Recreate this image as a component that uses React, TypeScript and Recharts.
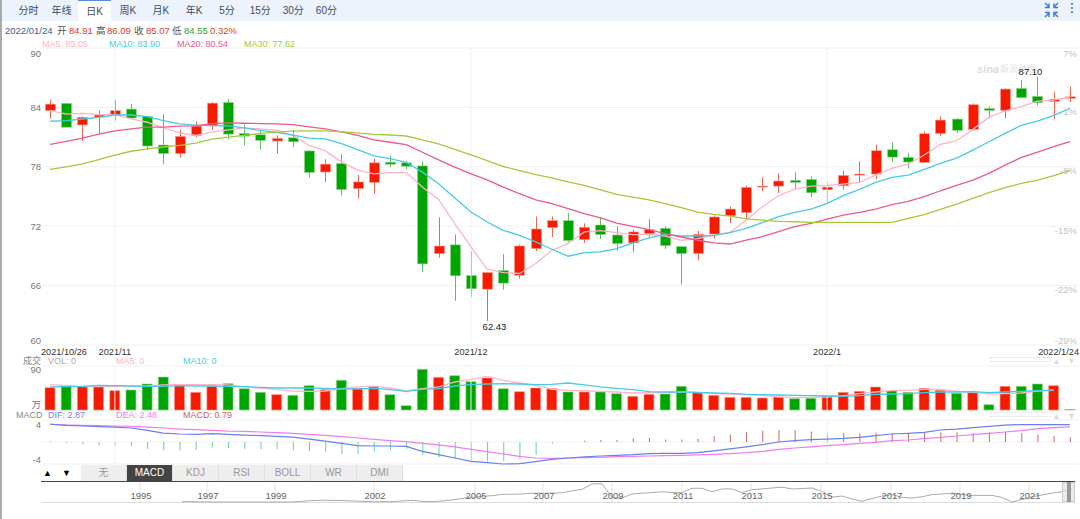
import { Bar, CartesianGrid, Cell, ComposedChart, Line, LineChart, ReferenceLine, XAxis, YAxis } from 'recharts';

const dates = [
  '2021/10/26', '2021/10/27', '2021/10/28', '2021/10/29',
  '2021/11', '2021/11/2', '2021/11/3', '2021/11/4', '2021/11/5', '2021/11/8', '2021/11/9', '2021/11/10', '2021/11/11', '2021/11/12',
  '2021/11/15', '2021/11/16', '2021/11/17', '2021/11/18', '2021/11/19', '2021/11/22', '2021/11/23', '2021/11/24', '2021/11/25', '2021/11/26', '2021/11/29', '2021/11/30',
  '2021/12', '2021/12/2', '2021/12/3', '2021/12/6', '2021/12/7', '2021/12/8', '2021/12/9', '2021/12/10', '2021/12/13', '2021/12/14', '2021/12/15', '2021/12/16', '2021/12/17',
  '2021/12/20', '2021/12/21', '2021/12/22', '2021/12/23', '2021/12/27', '2021/12/28', '2021/12/29', '2021/12/30', '2021/12/31',
  '2022/1', '2022/1/4', '2022/1/5', '2022/1/6', '2022/1/7', '2022/1/10', '2022/1/11', '2022/1/12', '2022/1/13', '2022/1/14',
  '2022/1/17', '2022/1/18', '2022/1/19', '2022/1/20', '2022/1/21', '2022/1/24',
];
const dateTicks = ['2021/10/26', '2021/11', '2021/12', '2022/1', '2022/1/24'];
const monthLines = ['2021/11', '2021/12', '2022/1'];

const opens = [
  83.67, 84.4, 82.23, 83.03, 83.27, 83.83, 83.07, 80.2, 79.33, 81.17, 82.13, 84.5, 81.37, 81.23, 80.6, 80.93, 79.6, 77.47, 78.33, 75.8,
  76.42, 78.46, 78.4, 78.09, 69.23, 70.11, 67.02, 65.64, 67.52, 67.05, 69.74, 71.85, 72.56, 70.64, 72.12, 71.11, 70.31, 71.25, 71.79, 69.94, 69.23, 71.21,
  73.06, 73.36, 75.98, 76.05, 76.63, 76.73, 75.68, 76.09, 77.16, 77.27, 79.72, 78.95, 78.44, 81.37, 82.82, 81.78, 83.87, 83.7, 85.92, 85.11, 84.61, 84.91,
];
const closes = [
  84.33, 82.0, 83.0, 83.23, 83.67, 82.93, 80.1, 79.33, 81.07, 82.1, 84.43, 81.3, 81.1, 80.67, 80.87, 80.53, 77.43, 78.27, 75.7, 76.47,
  78.4, 78.26, 78.06, 68.19, 70.0, 66.99, 65.68, 67.32, 66.25, 70.0, 71.72, 72.56, 70.54, 71.89, 71.15, 70.24, 71.42, 71.65, 70.04, 69.23, 71.18, 72.93,
  73.73, 75.92, 76.05, 76.56, 76.42, 75.38, 75.95, 77.13, 77.27, 79.62, 78.98, 78.48, 81.34, 82.72, 81.68, 84.27, 83.7, 85.85, 84.98, 84.47, 84.81, 85.07,
];
const highs = [
  84.77, 84.47, 83.07, 83.67, 84.77, 84.33, 83.07, 83.33, 81.73, 82.6, 84.53, 84.83, 82.27, 81.6, 81.17, 81.73, 79.67, 78.77, 79.27, 77.17,
  78.8, 79.13, 78.56, 78.56, 72.89, 71.18, 69.47, 67.39, 69.2, 70.14, 72.99, 72.99, 73.3, 72.29, 72.93, 71.99, 71.65, 72.72, 71.99, 69.94, 71.52, 73.09,
  73.97, 76.09, 76.93, 77.33, 77.47, 77.06, 76.42, 77.6, 78.55, 80.23, 80.46, 79.42, 81.58, 83.09, 82.92, 84.4, 84.07, 85.92, 86.76, 87.1, 85.55, 86.09,
];
const lows = [
  82.9, 82.0, 80.6, 81.33, 82.67, 82.87, 79.67, 78.27, 78.93, 81.0, 81.73, 80.8, 80.17, 79.77, 79.33, 80.0, 76.93, 76.47, 75.1, 74.8,
  75.27, 77.96, 77.76, 67.39, 68.83, 64.47, 64.87, 62.43, 65.61, 66.72, 69.5, 70.91, 70.41, 70.31, 70.71, 69.5, 69.37, 70.85, 69.7, 66.11, 68.56, 70.78,
  72.28, 72.62, 75.55, 75.35, 75.72, 74.94, 74.37, 75.72, 76.49, 76.76, 78.51, 77.84, 78.38, 81.14, 81.44, 81.64, 82.92, 82.92, 84.98, 84.2, 82.79, 84.55,
];
const ma5 = [
  83.7, 83.33, 83.4, 83.27, 83.27, 82.83, 82.5, 81.93, 81.43, 81.17, 81.5, 81.73, 81.93, 81.83, 81.67, 81.17, 80.17, 79.6, 78.5, 77.67,
  77.29, 77.42, 77.42, 75.95, 74.7, 72.26, 69.9, 67.66, 67.32, 67.22, 68.23, 69.57, 70.24, 71.42, 71.55, 71.35, 71.15, 71.18, 71.01, 70.58, 70.74, 71.08,
  71.37, 72.62, 73.97, 75.08, 75.75, 76.05, 76.12, 76.26, 76.42, 77.17, 77.84, 78.28, 79.19, 80.26, 80.63, 81.78, 82.99, 83.66, 84.07, 84.64, 84.74, 85.05,
];
const ma10 = [
  82.6, 82.67, 82.83, 83.0, 83.23, 83.23, 83.07, 82.67, 82.33, 82.2, 82.17, 82.13, 81.93, 81.67, 81.47, 81.2, 80.9, 80.83, 80.33, 79.73,
  79.1, 78.83, 78.46, 77.46, 76.28, 74.84, 73.43, 72.42, 71.58, 71.08, 70.41, 69.67, 68.97, 69.33, 69.4, 69.74, 70.31, 70.81, 71.18, 71.01, 71.01, 71.08,
  71.34, 71.78, 72.35, 72.96, 73.39, 73.73, 74.3, 75.08, 75.72, 76.42, 76.93, 77.16, 77.74, 78.34, 78.88, 79.69, 80.53, 81.37, 82.18, 82.62, 83.19, 83.9,
];
const ma20 = [
  80.27, 80.57, 80.9, 81.3, 81.63, 81.83, 82.0, 82.0, 82.1, 82.13, 82.37, 82.43, 82.4, 82.37, 82.33, 82.27, 82.03, 81.83, 81.53, 81.17,
  80.71, 80.48, 80.24, 79.47, 78.7, 77.96, 77.29, 76.68, 75.95, 75.28, 74.67, 74.27, 73.77, 73.26, 72.83, 72.32, 71.99, 71.65, 71.25, 70.91, 70.58, 70.31,
  70.2, 70.6, 70.94, 71.44, 71.95, 72.28, 72.72, 73.12, 73.39, 73.73, 74.17, 74.5, 74.98, 75.58, 76.12, 76.66, 77.33, 78.17, 78.95, 79.49, 80.03, 80.54,
];
const ma30 = [
  77.73, 78.0, 78.3, 78.73, 79.17, 79.57, 79.8, 80.0, 80.17, 80.4, 80.8, 81.0, 81.17, 81.37, 81.5, 81.6, 81.63, 81.63, 81.53, 81.43,
  81.28, 81.21, 81.11, 80.71, 80.31, 79.77, 79.2, 78.63, 78.03, 77.62, 77.22, 76.89, 76.48, 76.12, 75.68, 75.22, 74.94, 74.67, 74.27, 73.87, 73.43, 73.2,
  73.02, 72.75, 72.62, 72.48, 72.45, 72.38, 72.38, 72.38, 72.38, 72.38, 72.38, 72.79, 73.16, 73.7, 74.24, 74.81, 75.38, 75.89, 76.32, 76.66, 77.1, 77.62,
];
const volumes = [
  45.7, 50.5, 48.4, 49.1, 39.6, 40.9, 53.2, 67.5, 49.8, 36.1, 48.4, 53.9, 43.6, 36.1, 31.4, 30, 49.8, 41.6, 60.7, 44.3, 49.1, 31.4, 8.9, 83.2, 66.8, 70.2, 58, 65.5, 43.6, 37.5, 45,
  43.6, 36.8, 36.8, 36.8, 33.4, 28, 32, 32.7, 48.4, 35.5, 30, 25.9, 25.9, 24.6, 26.6, 23.2, 23.9, 28.6, 36.1, 38.2, 47, 38.9, 36.1, 44.3, 40.2, 34.1, 35.5, 10.9, 48.4, 48.4, 53.2, 49.8, 1,
];
const volMa5 = [
  51.8, 49.8, 47.7, 48.4, 47.7, 48.4, 49.1, 51.2, 51.8, 51.8, 51.8, 51.2, 47.1, 45, 41.6, 38.9, 38.2, 38.9, 43.6, 47.1, 48.4, 45, 38.9, 43.6, 47.1, 57.3, 62.1, 68.9, 60.7, 55.2, 50.5,
  42.3, 40.2, 38.9, 38.2, 36.8, 34.8, 35.5, 35.5, 36.8, 35.5, 34.1, 32.7, 31.4, 30, 26.6, 25.2, 25.9, 26.6, 29.3, 33.4, 36.8, 40.2, 40.2, 42.3, 42.3, 38.2, 36.8, 32.7, 33.4, 34.8, 38.9, 40.2, null,
];
const volMa10 = [
  47.1, 47.7, 48.4, 50.5, 49.8, 49.1, 48.4, 48.4, 49.8, 49.1, 49.1, 48.4, 47.7, 46.4, 45, 45, 45, 44.3, 43, 43, 44.3, 41.6, 38.2, 42.3, 43.6, 49.1, 51.8, 53.2, 53.9, 53.2, 51.8,
  52.5, 55.2, 51.2, 47.1, 44.3, 41.6, 37.5, 36.8, 36.8, 36.1, 34.8, 34.1, 32, 31.4, 30.7, 30, 29.3, 28.6, 28, 29.3, 32, 32.7, 33.4, 35.5, 36.8, 36.8, 37.5, 35.5, 36.8, 38.2, 39.6, 40.9, null,
];
const dif = [
  2.93, 2.75, 2.64, 2.53, 2.47, 2.31, 1.92, 1.48, 1.32, 1.26, 1.37, 1.26, 1.15, 1.04, 0.93, 0.82, 0.49, 0.16, -0.22, -0.6, -0.66, -0.66, -0.71, -1.54, -2.09, -2.64, -3.19, -3.41, -3.63, -3.57, -3.24,
  -2.86, -2.64, -2.47, -2.31, -2.2, -2.09, -1.92, -1.87, -1.87, -1.76, -1.48, -1.15, -0.82, -0.44, 0, 0.22, 0.38, 0.49, 0.6, 0.77, 1.04, 1.32, 1.43, 1.59, 1.98, 2.14, 2.36, 2.58, 2.8, 2.87, 2.87, 2.87, 2.87,
];
const dea = [
  2.93, 2.81, 2.75, 2.69, 2.64, 2.58, 2.47, 2.31, 2.14, 2.03, 1.92, 1.81, 1.76, 1.65, 1.54, 1.43, 1.26, 1.1, 0.88, 0.66, 0.44, 0.22, 0.05, -0.22, -0.49, -0.82, -1.21, -1.59, -1.98, -2.36, -2.64,
  -2.7, -2.64, -2.58, -2.53, -2.42, -2.36, -2.31, -2.25, -2.2, -2.14, -2.03, -1.92, -1.76, -1.54, -1.21, -0.99, -0.82, -0.6, -0.44, -0.22, -0.05, 0.22, 0.33, 0.55, 0.77, 0.99, 1.21, 1.43, 1.65, 1.87, 2.2, 2.36, 2.48,
];
const macd = [
  0.1, -0.15, -0.4, -0.55, -0.55, -0.7, -1.15, -1.4, -1.4, -1.3, -0.9, -1, -1.1, -1.15, -1.25, -1.35, -1.5, -1.6, -2, -2, -1.55, -1.3, -1.1, -2.1, -2.5, -2.8, -3.1, -3.2, -3.15, -2.8, -2.1,
  -0.3, 0, 0.2, 0.35, 0.35, 0.6, 0.65, 0.4, 0.4, 0.5, 1, 1.25, 1.65, 1.85, 2, 2, 1.75, 1.5, 1.5, 1.4, 1.55, 1.5, 1.3, 1.5, 1.6, 1.6, 1.5, 1.6, 1.7, 1.5, 1.2, 1, 0.79,
];

const priceTicks = [60, 66, 72, 78, 84, 90];
const pctLabels = ['-29%', '-22%', '-15%', '-8%', '1%', '7%'];

// overview strip, one reading per step along the strip
const navClose = [
  null, null, null, null, null, null, null, null, null, null, null, null, null, null,
  22, 22, 20, 20, 20, 20, 20, 20, 20, 20, 20, 20, 24, 29, 31, 31, 29, 27, 24, 22, 22, 22, 27, 31, 24, 22, 27, 33, 42, 49, 56, 60, 69, 69, 71, 76, 76, 76, 78, 91, 100, 134, 136,
  47, 45, 71, 76, 80, 85, 80, 80, 107, 107, 85, 103, 103, 80, 98, 103, 109, 114, 103, 105, 109, 87, 51, 58, 40, 24, 42, 58, 67, 49, 45, 53, 67, 71, 76, 67, 62, 62, 62, 49, 20, 36, 53, 65, 76, 85, 103,
];
const navSteps = [9.8, 16.5, 23.3, 33.2, 43.3, 50.1, 57, 64, 70.9, 77.9, 84.9, 91.8, 98.7];
const navYears = ['1995', '1997', '1999', '2002', '2005', '2007', '2009', '2011', '2013', '2015', '2017', '2019', '2021'];

const navRows = navClose.map((value, step) => ({ step, value }));
const rows = dates.map((date, i) => ({
  date,
  open: opens[i],
  high: highs[i],
  low: lows[i],
  close: closes[i],
  range: [lows[i], highs[i]],
  ma5: ma5[i],
  ma10: ma10[i],
  ma20: ma20[i],
  ma30: ma30[i],
  vol: volumes[i],
  volMa5: volMa5[i],
  volMa10: volMa10[i],
  dif: dif[i],
  dea: dea[i],
  macd: macd[i],
}));

const RED = '#f61a00';
const GREEN = '#00a600';
const GRID = '#f0f0f0';
const FONT = 'Arial, "Liberation Sans", "Noto Sans CJK SC", sans-serif';
const maxHigh = Math.max(...highs);
const minLow = Math.min(...lows);

function Candle(props: any) {
  const { x, y, width, height, payload } = props;
  const cx = Math.round(x + width / 2) + 0.5;
  const perUnit = Math.abs(height) / (payload.high - payload.low);
  const top = y + (payload.high - Math.max(payload.open, payload.close)) * perUnit;
  const bottom = y + (payload.high - Math.min(payload.open, payload.close)) * perUnit;
  const up = payload.close >= payload.open;
  const color = up ? RED : GREEN;
  return (
    <g>
      <line x1={cx} x2={cx} y1={y} y2={y + Math.abs(height)} stroke={up ? '#f8604c' : '#5cc05c'} />
      <rect x={cx - 5} y={top} width={10} height={Math.max(bottom - top, 1)} fill={color} stroke={up ? '#fb9a8c' : '#8ed48e'} strokeWidth={0.6} />
      {payload.high === maxHigh && (
        <text x={cx - 7} y={y - 2} textAnchor="middle" fontSize={9.5} fill="#222" fontFamily={FONT}>
          {payload.high.toFixed(2)}
        </text>
      )}
      {payload.low === minLow && (
        <text x={cx + 7} y={y + Math.abs(height) + 9} textAnchor="middle" fontSize={9.5} fill="#222" fontFamily={FONT}>
          {payload.low.toFixed(2)}
        </text>
      )}
    </g>
  );
}

// one tick, drawn on both sides: the price at the left, the change at the right
function PriceTick({ y, payload }: any) {
  const edge = payload.value === 90 ? 5 : payload.value === 60 ? -5 : 0;
  const rightShift = edge || 4;
  return (
    <g fontSize={9.5} fontFamily={FONT} textAnchor="end">
      <text x={41} y={y + edge + 3.5} fill="#777">
        {payload.value}
      </text>
      <text x={1077} y={y + rightShift + 3.5} fill="#c4c4c4">
        {pctLabels[priceTicks.indexOf(payload.value)]}
      </text>
    </g>
  );
}

function DateTick({ x, y, payload }: any) {
  const anchor = payload.value === '2021/10/26' ? 'start' : payload.value === '2022/1/24' ? 'end' : 'middle';
  const left = payload.value === '2021/10/26' ? 41 : payload.value === '2022/1/24' ? 1079 : x;
  return (
    <text x={left} y={y + 2} textAnchor={anchor} fontSize={9.2} fill="#333" fontFamily={FONT}>
      {payload.value}
    </text>
  );
}

function VolTick({ y, payload }: any) {
  const zero = payload.value === 0;
  return (
    <text x={41} y={y + (zero ? -2 : 7)} textAnchor="end" fontSize={9.5} fill="#777" fontFamily={FONT}>
      {zero ? '万' : payload.value}
    </text>
  );
}

function MacdTick({ y, payload }: any) {
  if (payload.value === 0) return null;
  return (
    <text x={41} y={y + (payload.value > 0 ? 8 : -1)} textAnchor="end" fontSize={9.5} fill="#777" fontFamily={FONT}>
      {Math.round(payload.value)}
    </text>
  );
}

function NavTick({ x, payload }: any) {
  return (
    <g>
      <line x1={x} x2={x} y1={482} y2={502} stroke="#e4e4e4" />
      <text x={x + 1} y={499} textAnchor="middle" fontSize={9.5} fill="#666" fontFamily={FONT}>
        {navYears[navSteps.indexOf(payload.value)]}
      </text>
    </g>
  );
}

const layer = { position: 'absolute', left: 0, top: 0 } as const;

function Label({ x, y, color, size = 9.5, children }: any) {
  return (
    <span style={{ position: 'absolute', left: x, top: y, color, fontSize: size, lineHeight: '10px', whiteSpace: 'nowrap' }}>
      {children}
    </span>
  );
}

const periods = ['分时', '年线', '日K', '周K', '月K', '年K', '5分', '15分', '30分', '60分'];
const indicators = ['无', 'MACD', 'KDJ', 'RSI', 'BOLL', 'WR', 'DMI'];

export default function App() {
  return (
    <div style={{ position: 'absolute', left: 0, top: 0, width: 1080, height: 519, overflow: 'hidden', background: '#fff', fontFamily: FONT }}>
      {/* period tabs */}
      <div style={{ position: 'absolute', left: 0, top: 0, width: 1080, height: 21, background: '#edf3fc' }} />
      {periods.map((name, i) => (
        <div
          key={name}
          style={{
            position: 'absolute',
            left: 12 + i * 33.1,
            top: 0,
            width: 33,
            height: i === 2 ? 20 : 21,
            lineHeight: '21px',
            textAlign: 'center',
            fontSize: 10,
            color: '#3c4a66',
            background: i === 2 ? '#fff' : 'transparent',
            borderTop: i === 2 ? '1px solid #5b8bd8' : 'none',
          }}
        >
          {name}
        </div>
      ))}
      <svg style={{ position: 'absolute', left: 1040, top: 0 }} width={40} height={21}>
        <path d="M5 3 L9 7 M9 3.5 V7.5 H5 M18 3 L14 7 M14 3.5 V7.5 H18 M5 17 L9 13 M9 17 V12.5 H5 M18 17 L14 13 M14 17 V12.5 H18" stroke="#3f78d4" strokeWidth={1.4} fill="none" />
        <circle cx={32} cy={4} r={1.1} fill="#3f78d4" />
        <circle cx={32} cy={8} r={1.1} fill="#3f78d4" />
        <circle cx={32} cy={12} r={1.1} fill="#3f78d4" />
      </svg>

      {/* quote row */}
      <Label x={5} y={26} color="#3d5a94">2022/01/24</Label>
      <Label x={57} y={26} color="#555">开</Label>
      <Label x={69} y={26} color="#e8382a">84.91</Label>
      <Label x={96} y={26} color="#555">高</Label>
      <Label x={107} y={26} color="#e8382a">86.09</Label>
      <Label x={134} y={26} color="#555">收</Label>
      <Label x={146} y={26} color="#e8382a">85.07</Label>
      <Label x={172} y={26} color="#555">低</Label>
      <Label x={184} y={26} color="#2ca52c">84.55</Label>
      <Label x={210} y={26} color="#e8382a">0.32%</Label>
      <Label x={42} y={39} color="#ffb3c8" size={9}>MA5: 85.05</Label>
      <Label x={109} y={39} color="#46cbe6" size={9}>MA10: 83.90</Label>
      <Label x={177} y={39} color="#f0588e" size={9}>MA20: 80.54</Label>
      <Label x={244} y={39} color="#a6c93a" size={9}>MA30: 77.62</Label>

      {/* watermark */}
      <span style={{ position: 'absolute', left: 977, top: 63, fontSize: 11, fontWeight: 700, fontStyle: 'italic', color: '#dcdcdc', lineHeight: '12px' }}>sina</span>
      <span style={{ position: 'absolute', left: 1000, top: 64, fontSize: 9, color: '#e2e2e2', lineHeight: '10px' }}>新浪财经</span>

      {/* price panel */}
      <div style={layer}>
        <ComposedChart width={1080} height={366} data={rows} margin={{ top: 48, right: 2, bottom: 0, left: 0 }}>
          <CartesianGrid vertical={false} stroke={GRID} />
          <XAxis dataKey="date" ticks={dateTicks} interval={0} height={21} tick={<DateTick />} tickLine={false} axisLine={false} />
          <YAxis width={42} domain={[60, 90]} ticks={priceTicks} interval={0} tick={<PriceTick />} tickLine={false} axisLine={false} />
          {monthLines.map((m) => (
            <ReferenceLine key={m} x={m} stroke={GRID} />
          ))}
          <Bar dataKey="range" barSize={10} shape={<Candle />} isAnimationActive={false} />
          <Line dataKey="ma5" stroke="#ffb3c8" strokeWidth={1.3} dot={false} isAnimationActive={false} />
          <Line dataKey="ma10" stroke="#46cbe6" strokeWidth={1.3} dot={false} isAnimationActive={false} />
          <Line dataKey="ma20" stroke="#f0588e" strokeWidth={1.3} dot={false} isAnimationActive={false} />
          <Line dataKey="ma30" stroke="#a6c93a" strokeWidth={1.3} dot={false} isAnimationActive={false} />
        </ComposedChart>
      </div>

      {/* volume panel */}
      <Label x={23} y={356} color="#888" size={9}>成交</Label>
      <Label x={48} y={356} color="#aaa" size={9}>VOL: 0</Label>
      <Label x={116} y={356} color="#ffb3c8" size={9}>MA5: 0</Label>
      <Label x={183} y={356} color="#46cbe6" size={9}>MA10: 0</Label>
      <div style={layer}>
        <ComposedChart width={1080} height={412} data={rows} margin={{ top: 366, right: 2, bottom: 2, left: 0 }}>
          <CartesianGrid vertical={false} stroke={GRID} />
          <XAxis dataKey="date" hide />
          <YAxis width={42} domain={[0, 90]} ticks={[0, 90]} interval={0} tick={<VolTick />} tickLine={false} axisLine={false} />
          {monthLines.map((m) => (
            <ReferenceLine key={m} x={m} stroke={GRID} />
          ))}
          <Bar dataKey="vol" barSize={10} isAnimationActive={false}>
            {rows.map((row) => (
              <Cell key={row.date} fill={row.close >= row.open ? RED : GREEN} stroke={row.close >= row.open ? '#fb9a8c' : '#8ed48e'} strokeWidth={0.6} />
            ))}
          </Bar>
          <Line dataKey="volMa5" stroke="#ffb3c8" strokeWidth={1.3} dot={false} isAnimationActive={false} />
          <Line dataKey="volMa10" stroke="#46cbe6" strokeWidth={1.3} dot={false} isAnimationActive={false} />
        </ComposedChart>
      </div>

      {/* macd panel */}
      <Label x={16} y={410} color="#888" size={9}>MACD</Label>
      <Label x={48} y={410} color="#7182f5" size={9}>DIF: 2.87</Label>
      <Label x={116} y={410} color="#f07cf5" size={9}>DEA: 2.48</Label>
      <Label x={183} y={410} color="#c8625a" size={9}>MACD: 0.79</Label>
      <div style={layer}>
        <ComposedChart width={1080} height={466} data={rows} margin={{ top: 420, right: 2, bottom: 2, left: 0 }}>
          <CartesianGrid vertical={false} stroke={GRID} />
          <XAxis dataKey="date" hide />
          <YAxis width={42} domain={[-3.63, 3.63]} ticks={[-3.63, 0, 3.63]} interval={0} tick={<MacdTick />} tickLine={false} axisLine={false} />
          {monthLines.map((m) => (
            <ReferenceLine key={m} x={m} stroke={GRID} />
          ))}
          <Bar dataKey="macd" barSize={1} isAnimationActive={false}>
            {rows.map((row) => (
              <Cell key={row.date} fill={row.macd >= 0 ? '#cf6a58' : '#62d0ae'} />
            ))}
          </Bar>
          <Line dataKey="dea" stroke="#f07cf5" strokeWidth={1.2} dot={false} isAnimationActive={false} />
          <Line dataKey="dif" stroke="#6b7ff0" strokeWidth={1.2} dot={false} isAnimationActive={false} />
        </ComposedChart>
      </div>

      {/* corner arrows of the panels */}
      {[357, 412].map((top) => (
        <div key={top} style={{ position: 'absolute', left: 990, top, width: 62, height: 3, borderTop: '1px dotted #ddd', borderBottom: '1px dotted #ddd' }} />
      ))}
      {[356, 411].map((top) => (
        <span key={top}>
          <span style={{ position: 'absolute', left: 1052, top, fontSize: 9, lineHeight: '10px', color: '#ddd' }}>▲</span>
          <span style={{ position: 'absolute', left: 1067, top, fontSize: 9, lineHeight: '10px', color: '#ddd' }}>▼</span>
        </span>
      ))}

      {/* indicator tabs */}
      <span style={{ position: 'absolute', left: 43, top: 467, fontSize: 9, lineHeight: '12px', color: '#000' }}>▲</span>
      <span style={{ position: 'absolute', left: 62, top: 467, fontSize: 9, lineHeight: '12px', color: '#000' }}>▼</span>
      {indicators.map((name, i) => (
        <div
          key={name}
          style={{
            position: 'absolute',
            left: 81 + i * 46,
            top: 465,
            width: 45,
            height: 16,
            lineHeight: '16px',
            textAlign: 'center',
            fontSize: 10,
            background: name === 'MACD' ? '#444' : '#eee',
            color: name === 'MACD' ? '#fff' : '#999',
            borderRight: '1px solid #ddd',
          }}
        >
          {name}
        </div>
      ))}

      {/* overview strip */}
      <div style={{ position: 'absolute', left: 41, top: 481, width: 1034, height: 1, background: '#444' }} />
      <div style={{ position: 'absolute', left: 41, top: 502, width: 1034, height: 1, background: '#ddd' }} />
      <div style={layer}>
        <LineChart width={1080} height={519} data={navRows} margin={{ top: 482, right: 5, bottom: 0, left: 42 }}>
          <XAxis
            dataKey="step"
            type="number"
            domain={[0, 103.3]}
            ticks={navSteps}
            interval={0}
            height={17}
            tick={<NavTick />}
            tickLine={false}
            axisLine={false}
          />
          <YAxis hide domain={[20, 147]} />
          <Line dataKey="value" stroke="#aaa" strokeWidth={1} dot={false} isAnimationActive={false} />
        </LineChart>
      </div>
      <div style={{ position: 'absolute', left: 1062, top: 482, width: 13, height: 20, background: 'rgba(225,225,225,0.7)', border: '1px solid #ccc', boxSizing: 'border-box' }} />
      <div style={{ position: 'absolute', left: 1067, top: 482, width: 4, height: 20, background: '#999' }} />

      <div style={{ position: 'absolute', left: 0, top: 0, width: 1.5, height: 519, background: '#aaa' }} />
    </div>
  );
}
